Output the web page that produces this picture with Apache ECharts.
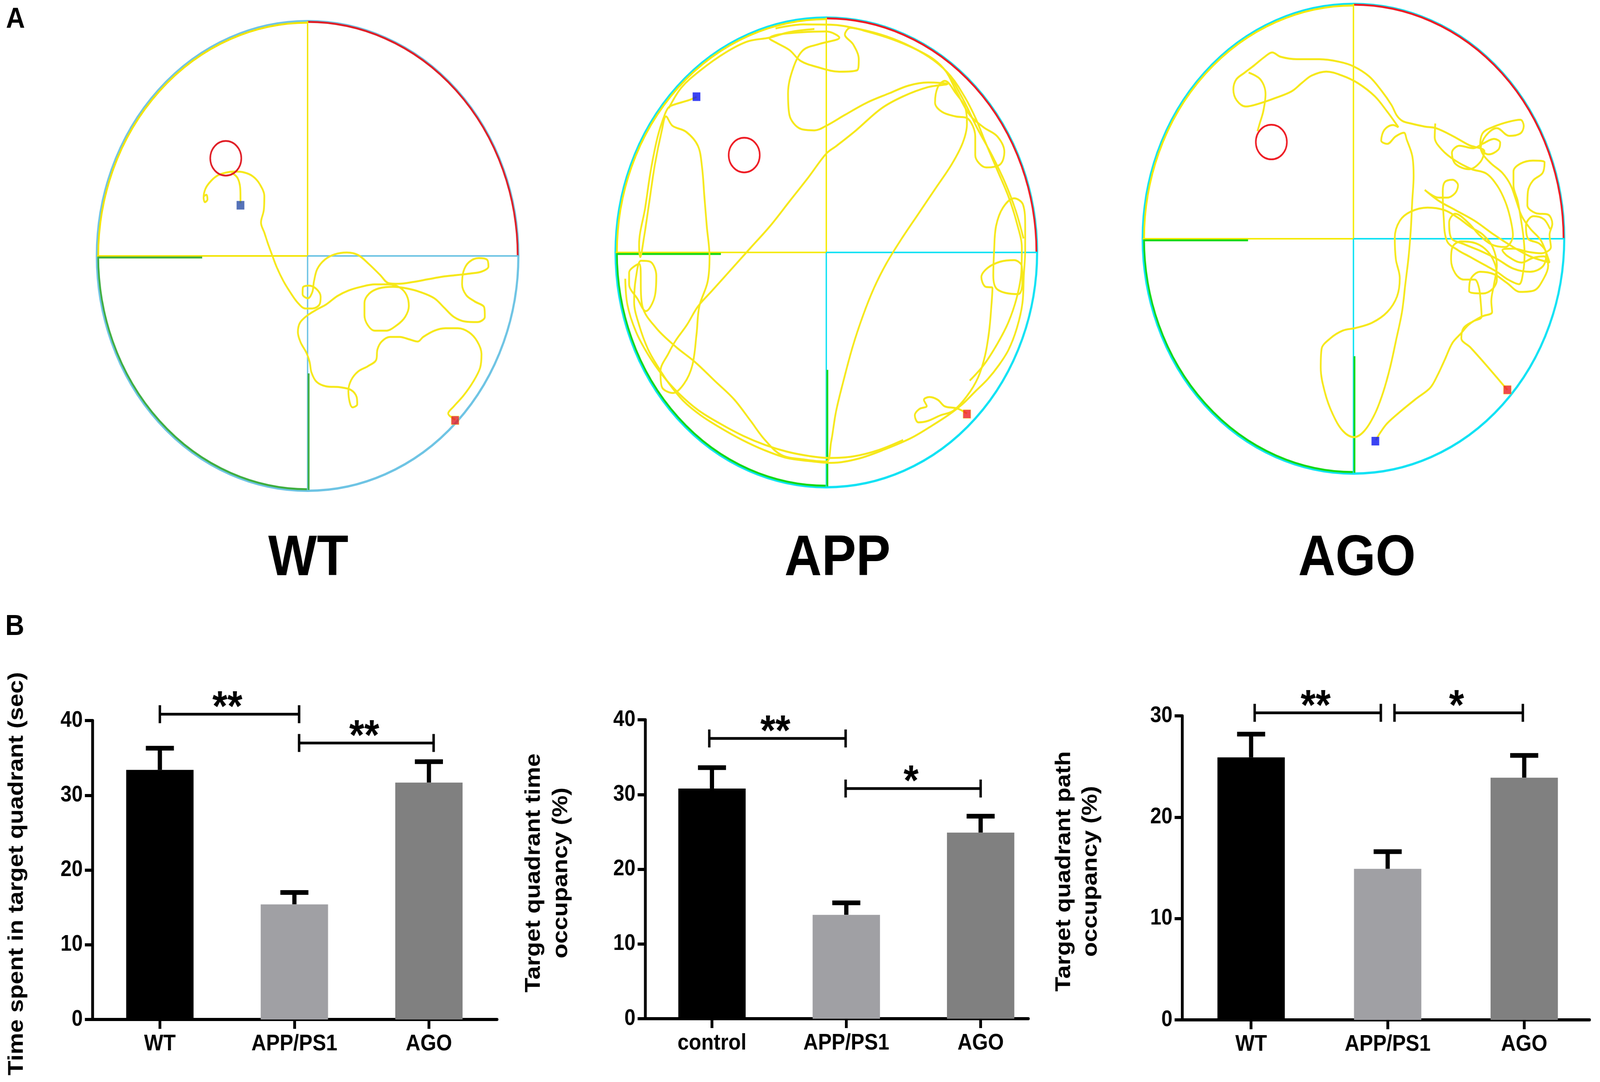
<!DOCTYPE html>
<html>
<head>
<meta charset="utf-8">
<title>Morris water maze probe trial</title>
<script src="https://cdn.jsdelivr.net/npm/echarts@6.0.0/dist/echarts.min.js"></script>
<style>
    html, body { margin: 0; padding: 0; background: #ffffff; overflow: hidden; }
    #wrap { position: relative; overflow: hidden; }
    #chart { position: absolute; left: 0; top: 0; width: 4562px; height: 2769px; transform-origin: 0 0; }
</style>
</head>
<body>
<div id="wrap"><div id="chart"></div></div>
<script>
// ---------- 数据：轨迹（跟踪软件像素坐标） ----------
const arenaNames = ['WT', 'APP', 'AGO'];

// 水池中心与半径 [cx, cy, r]
const poolWT = [783, 788, 760];
const poolAPP = [783, 785, 760];
const poolAGO = [783, 773, 760];

// 平台 [x, y, r]
const platformWT = [488, 472, 56];
const platformAPP = [487, 470, 56];
const platformAGO = [487, 460, 56];

// 入水点（蓝）与终点（红）
const blueWT = [541, 624];
const redWT = [1315, 1320];
const blueAPP = [315, 281];
const redAPP = [1290, 1308];
const blueAGO = [862, 1428];
const redAGO = [1338, 1262];

const trackWT = [
    [1315,1318],[1290,1298],[1310,1275],[1345,1240],[1380,1195],[1405,1150],[1410,1105],[1395,1065],
    [1365,1035],[1325,1022],[1280,1022],[1240,1030],[1200,1050],[1180,1065],[1150,1058],[1115,1050],
    [1080,1050],[1050,1065],[1035,1090],[1030,1125],[1000,1145],[965,1162],[940,1190],[930,1225],
    [935,1262],[945,1278],[962,1268],[960,1245],[940,1222],[900,1213],[850,1210],[815,1195],
    [797,1165],[790,1130],[778,1100],[758,1068],[748,1035],[755,1005],[780,982],[815,962],
    [850,945],[890,918],[930,900],[975,888],[1025,880],[1075,880],[1115,890],[1140,915],
    [1148,950],[1135,985],[1105,1012],[1065,1030],[1025,1030],[1000,1012],[988,980],[988,940],
    [1005,910],[1040,893],[1090,888],[1140,893],[1190,905],[1240,925],[1275,955],[1310,985],
    [1350,1000],[1395,1002],[1422,985],[1420,955],[1385,935],[1355,915],[1340,880],[1345,838],
    [1365,808],[1400,795],[1430,800],[1435,822],[1412,838],[1370,845],[1320,850],[1270,855],
    [1220,863],[1165,872],[1110,878],[1075,876],[1045,850],[1005,815],[965,785],[925,777],
    [880,783],[845,800],[818,830],[806,870],[800,905],[784,925],[765,912],[766,890],
    [788,884],[815,895],[830,920],[826,945],[800,958],[775,958],[748,940],[720,905],
    [695,868],[672,825],[655,785],[640,748],[628,715],[615,680],[625,640],[627,595],
    [610,555],[585,530],[555,518],[520,515],[490,518],[460,527],[435,545],[415,570],
    [408,600],[413,614],[422,605],[418,590],[407,596]
];
const trackWTTail = [[508,518],[530,535],[540,568],[541,600],[541,618]];

const trackAPP = [
    [1290,1306],[1255,1290],[1210,1283],[1185,1262],[1155,1253],[1135,1262],[1145,1282],[1118,1292],
    [1102,1312],[1115,1335],[1150,1330],[1195,1312],[1240,1298],[1290,1250],[1330,1190],[1355,1120],
    [1370,1040],[1378,960],[1382,900],[1355,895],[1342,865],[1365,835],[1410,815],[1460,810],
    [1488,830],[1490,880],[1475,920],[1400,905],[1385,860],[1388,780],[1395,700],[1420,640],
    [1460,610],[1492,630],[1500,700],[1500,780],[1495,860],[1490,950],[1470,1030],[1440,1100],
    [1405,1150],[1365,1195],[1320,1235],[1275,1275],[1225,1310],[1165,1345],[1090,1385],[1000,1420],
    [900,1452],[800,1466],[720,1460],[640,1450],[560,1425],[480,1392],[400,1352],[330,1312],
    [268,1266],[218,1212],[178,1158],[140,1098],[108,1020],[90,945],[96,870],[115,812],
    [148,815],[170,860],[165,925],[132,975],[102,935],[72,888],[72,850],[108,822],
    [120,960],[170,1030],[240,1090],[310,1140],[380,1200],[450,1260],[510,1330],[560,1390],
    [620,1440],[700,1455],[783,1462],[800,1400],[818,1300],[845,1200],[878,1090],[915,990],
    [955,900],[1000,820],[1055,740],[1115,660],[1175,580],[1235,500],[1275,430],[1290,370],
    [1285,320],[1250,270],[1210,230],[1185,250],[1175,300],[1200,330],[1250,345],[1290,350],
    [1320,410],[1320,470],[1360,510],[1410,500],[1425,460],[1400,410],[1350,380],[1300,340],
    [1250,260],[1215,200],[1170,160],[1100,125],[1020,95],[930,70],[870,58],[850,80],
    [880,112],[900,160],[895,195],[830,200],[750,185],[690,165],[650,130],[600,105],
    [578,92],[610,80],[700,72],[783,70],[830,90],[760,110],[700,130],[665,185],
    [645,270],[650,340],[690,385],[740,390],[783,375],[850,340],[930,300],[1010,270],
    [1080,245],[1150,235],[1220,240],[1150,250],[1060,280],[980,320],[890,390],[820,440],
    [783,465],[720,540],[650,620],[580,700],[510,770],[440,840],[370,910],[320,960],
    [280,1020],[240,1070],[215,1110],[185,1170],[190,1220],[230,1240],[270,1210],[300,1150],
    [315,1050],[325,960],[355,880],[362,800],[352,700],[343,600],[335,510],[320,440],
    [278,395],[228,375],[205,345],[190,390],[165,500],[145,620],[125,740],[112,800],
    [108,760],[130,640],[150,520],[175,410],[200,340],[215,315],[240,305],[285,293],
    [315,282]
];
const trackAPPWall = [[215,318],[260,252],[330,195],[420,138],[500,102],[578,90],[650,72],[740,62]];
const trackAPPOuter = [
    [600,60],[700,47],[800,48],[900,62],[1000,86],[1090,120],[1170,163],[1232,215],
    [1282,282],[1322,352],[1355,425],[1400,520],[1440,605],[1470,690],[1488,770],[1486,850],
    [1470,930],[1440,1010],[1400,1080],[1350,1150],[1300,1200]
];
const trackAPPLower = [
    [58,870],[66,955],[96,1040],[138,1112],[190,1180],[252,1242],[322,1296],[402,1340],
    [482,1378],[562,1408],[642,1430],[722,1444],[790,1450],[880,1445],[970,1425],[1060,1392]
];
const trackAPPDiag = [[1228,212],[1280,296],[1330,388],[1380,470],[1428,560],[1466,650],[1494,740]];

const trackAGO = [
    [1338,1262],[1300,1222],[1255,1175],[1205,1125],[1172,1095],[1180,1062],[1215,1040],[1245,1025],
    [1242,980],[1235,930],[1220,905],[1180,905],[1150,885],[1135,840],[1140,800],[1170,782],
    [1225,788],[1268,815],[1295,860],[1300,905],[1285,935],[1250,950],[1200,942],[1205,905],
    [1240,880],[1290,888],[1335,915],[1385,945],[1435,940],[1470,900],[1485,860],[1470,830],
    [1430,835],[1390,850],[1340,830],[1320,810],[1360,805],[1410,815],[1460,820],[1495,800],
    [1490,760],[1500,725],[1485,695],[1440,690],[1410,665],[1412,620],[1430,585],[1465,560],
    [1472,525],[1430,520],[1385,530],[1360,555],[1360,600],[1375,650],[1385,700],[1395,760],
    [1400,820],[1395,880],[1380,920],[1340,905],[1300,880],[1250,855],[1200,830],[1160,810],
    [1120,780],[1108,700],[1105,620],[1112,590],[1140,582],[1160,600],[1150,625],[1120,640],
    [1090,640],[1040,615],[1090,650],[1150,680],[1220,715],[1290,760],[1350,795],[1420,830],
    [1490,850],[1460,780],[1420,740],[1390,700],[1370,650],[1350,600],[1320,560],[1280,530],
    [1250,500],[1240,470],[1250,430],[1290,410],[1340,395],[1385,388],[1397,408],[1385,432],
    [1345,440],[1300,415],[1260,440],[1242,480],[1270,500],[1305,485],[1312,462],[1290,450],
    [1250,465],[1215,480],[1165,472],[1138,495],[1150,530],[1200,548],[1240,525],[1255,490],
    [1200,470],[1140,440],[1080,415],[1040,410],[990,400],[960,392],[940,375],[920,340],
    [885,295],[840,248],[783,215],[730,200],[660,192],[580,192],[520,184],[490,170],
    [462,185],[425,212],[390,236],[360,258],[350,290],[362,325],[395,345],[445,335],
    [500,318],[560,296],[598,268],[632,245],[685,232],[742,245],[800,270],[860,312],
    [905,362],[945,412],[925,405],[895,420],[883,455],[905,466],[935,442],[965,430],
    [975,452],[995,505],[1000,570],[995,650],[990,740],[982,830],[970,920],[958,1010],
    [937,1100],[915,1190],[890,1270],[860,1340],[822,1395],[785,1415],[745,1395],[708,1340],
    [680,1270],[665,1190],[668,1130],[700,1095],[745,1070],[790,1062],[850,1045],[905,1010],
    [940,960],[950,900],[936,840],[932,770],[950,715],[990,685],[1050,672],[1110,680],
    [1160,705],[1205,735],[1250,760],[1285,800],[1300,860],[1290,920],[1280,975],[1283,1010],
    [1245,1025],[1200,1050],[1170,1080],[1140,1110],[1112,1165],[1086,1215],[1060,1255],[1010,1290],
    [955,1330],[905,1370],[880,1400],[864,1425]
];
const trackAGOLoop = [[405,235],[448,258],[466,305],[458,360],[445,400],[437,425]];
const trackAGOCluster = [
    [1078,400],[1076,445],[1102,485],[1150,520],[1210,548],[1262,562],[1302,602],[1330,652],
    [1348,705],[1358,762],[1330,800],[1282,792],[1238,762],[1198,722],[1150,692],[1128,720],
    [1135,770],[1180,790],[1240,812],[1300,838],[1360,870],[1420,880],[1466,862],[1478,822],
    [1455,790],[1412,772],[1405,730],[1432,700],[1470,710],[1492,742]
];

// ---------- 数据：柱状图 ----------
const groupsTime = ['WT', 'APP/PS1', 'AGO'];
const groupsOcc = ['control', 'APP/PS1', 'AGO'];
const groupsPath = ['WT', 'APP/PS1', 'AGO'];

const timeMean = [33.4, 15.4, 31.7];
const timeSem = [2.9, 1.6, 2.8];
const occMean = [30.8, 13.9, 24.9];
const occSem = [2.8, 1.6, 2.2];
const pathMean = [25.9, 14.9, 23.9];
const pathSem = [2.3, 1.7, 2.2];

// 显著性标注 [x1, x2, y, 标记]
const sigTime = [[0, 1.035, 40.85, '**'], [1.035, 2.035, 37.0, '**']];
const sigOcc = [[-0.02, 0.995, 37.5, '**'], [0.995, 2.0, 30.8, '*']];
const sigPath = [[0.026, 0.95, 30.3, '**'], [1.05, 1.99, 30.3, '*']];

const yTitles = [
    'Time spent in target quadrant (sec)',
    'Target quadrant time\noccupancy (%)',
    'Target quadrant path\noccupancy (%)'
];

// ---------- 样式 ----------
const FONT = '"Liberation Sans", Arial, Helvetica, sans-serif';
const barColors = ['#000000', '#a0a0a4', '#808080'];
const trackColor = '#f6e81a';
const palettes = [
    { yellow: '#f2e400', cyan: '#6ec4e4', green: '#3fae3f', red: '#e01e26', blue: '#2b4fa6' },
    { yellow: '#f5ea00', cyan: '#10e2f4', green: '#14d814', red: '#ee1c24', blue: '#0a14f0' },
    { yellow: '#f5ea00', cyan: '#10e2f4', green: '#14d814', red: '#ee1c24', blue: '#0a14f0' }
];

// 画布按 4562×2769 排版，再拉伸到实际窗口
const W = 4562, H = 2769;
const wrap = document.getElementById('wrap');
const el = document.getElementById('chart');
const sx = window.innerWidth / W, sy = window.innerHeight / H;
wrap.style.width = window.innerWidth + 'px';
wrap.style.height = window.innerHeight + 'px';
el.style.transform = 'scale(' + sx + ',' + sy + ')';

const chart = echarts.init(el, null, { renderer: 'canvas' });

// 水池轮廓与象限线
function renderPool(pal) {
    return function (params, api) {
        const c = api.coord([api.value(0), api.value(1)]);
        const r = api.size([api.value(2), 0])[0];
        const x = c[0], y = c[1];
        const arc = (a0, a1, color, rr) => ({
            type: 'arc',
            shape: { cx: x, cy: y, r: rr, startAngle: a0, endAngle: a1, clockwise: true },
            style: { stroke: color, lineWidth: 5, fill: 'none' }
        });
        const seg = (x1, y1, x2, y2, color, w) => ({
            type: 'line',
            shape: { x1: x1, y1: y1, x2: x2, y2: y2 },
            style: { stroke: color, lineWidth: w }
        });
        return {
            type: 'group',
            children: [
                { type: 'circle', shape: { cx: x, cy: y, r: r }, style: { fill: 'none', stroke: pal.cyan, lineWidth: 6 } },
                arc(Math.PI, 1.5 * Math.PI, pal.yellow, r - 4),
                arc(1.5 * Math.PI, 2 * Math.PI, pal.red, r - 2),
                arc(0.5 * Math.PI, Math.PI, pal.green, r - 4),
                seg(x, y - r, x, y, pal.yellow, 4),
                seg(x - r, y, x, y, pal.yellow, 4),
                seg(x, y, x + r, y, pal.cyan, 4),
                seg(x, y, x, y + r, pal.cyan, 4),
                seg(x - r + 2, y + 4, x - r / 2, y + 4, pal.green, 5),
                seg(x + 3, y + r / 2, x + 3, y + r - 2, pal.green, 5)
            ]
        };
    };
}

function renderPlatform(pal) {
    return function (params, api) {
        const c = api.coord([api.value(0), api.value(1)]);
        const r = api.size([api.value(2), 0])[0];
        return {
            type: 'circle',
            shape: { cx: c[0], cy: c[1], r: r },
            style: { fill: 'none', stroke: pal.red, lineWidth: 4.5 }
        };
    };
}

// 误差线（均值 + SEM）
function renderErr(params, api) {
    const x = api.value(0);
    const p0 = api.coord([x, api.value(1)]);
    const p1 = api.coord([x, api.value(2)]);
    return {
        type: 'group',
        children: [
            { type: 'line', shape: { x1: p0[0], y1: p0[1], x2: p1[0], y2: p1[1] }, style: { stroke: '#000', lineWidth: 12 } },
            { type: 'line', shape: { x1: p1[0] - 40, y1: p1[1], x2: p1[0] + 40, y2: p1[1] }, style: { stroke: '#000', lineWidth: 12 } }
        ]
    };
}

function renderSig(list) {
    return function (params, api) {
        const a = api.coord([api.value(0), api.value(2)]);
        const b = api.coord([api.value(1), api.value(2)]);
        const y = a[1];
        const mark = list[params.dataIndex][3];
        return {
            type: 'group',
            children: [
                { type: 'line', shape: { x1: a[0], y1: y, x2: b[0], y2: y }, style: { stroke: '#000', lineWidth: 7 } },
                { type: 'line', shape: { x1: a[0], y1: y - 23, x2: a[0], y2: y + 23 }, style: { stroke: '#000', lineWidth: 7 } },
                { type: 'line', shape: { x1: b[0], y1: y - 23, x2: b[0], y2: y + 23 }, style: { stroke: '#000', lineWidth: 7 } },
                {
                    type: 'text',
                    x: (a[0] + b[0]) / 2 - 6,
                    y: y - 14,
                    style: {
                        text: mark,
                        font: 'bold 110px ' + FONT,
                        fill: '#000',
                        textAlign: 'center', textVerticalAlign: 'middle',
                        align: 'center', verticalAlign: 'middle'
                    }
                }
            ]
        };
    };
}

// ---------- 布局 ----------
const pools = [poolWT, poolAPP, poolAGO];
const platforms = [platformWT, platformAPP, platformAGO];
const blues = [blueWT, blueAPP, blueAGO];
const reds = [redWT, redAPP, redAGO];
const tracks = [
    [trackWT, trackWTTail],
    [trackAPP, trackAPPWall, trackAPPOuter, trackAPPLower, trackAPPDiag],
    [trackAGO, trackAGOLoop, trackAGOCluster]
];
const poolGrids = [{ left: 276, top: 54 }, { left: 1755, top: 45 }, { left: 3258, top: 10 }];
const POOL_PX = 1202;

const barSets = [
    { cats: groupsTime, mean: timeMean, sem: timeSem, sig: sigTime, yMax: 40,
      grid: { left: 264, top: 1844, width: 1153, height: 765 }, xr: [-0.5, 2.506] },
    { cats: groupsOcc, mean: occMean, sem: occSem, sig: sigOcc, yMax: 40,
      grid: { left: 1840, top: 1842, width: 1092, height: 765 }, xr: [-0.496, 2.355] },
    { cats: groupsPath, mean: pathMean, sem: pathSem, sig: sigPath, yMax: 30,
      grid: { left: 3371, top: 1832, width: 1161, height: 778 }, xr: [-0.504, 2.478] }
];

const grids = [], xAxes = [], yAxes = [], series = [];

pools.forEach(function (pool, i) {
    const pal = palettes[i];
    grids.push({ left: poolGrids[i].left, top: poolGrids[i].top, width: POOL_PX, height: POOL_PX, outerBoundsMode: 'none' });
    xAxes.push({ gridIndex: i, type: 'value', min: pool[0] - pool[2], max: pool[0] + pool[2], show: false });
    yAxes.push({ gridIndex: i, type: 'value', min: pool[1] - pool[2], max: pool[1] + pool[2], inverse: true, show: false });
    series.push({
        type: 'custom', xAxisIndex: i, yAxisIndex: i, coordinateSystem: 'cartesian2d',
        renderItem: renderPool(pal), data: [pool], silent: true, z: 1
    });
    tracks[i].forEach(function (tr) {
        series.push({
            type: 'line', xAxisIndex: i, yAxisIndex: i, data: tr,
            showSymbol: false, smooth: 0.35, clip: false, silent: true, z: 2,
            lineStyle: { color: trackColor, width: 5 }
        });
    });
    series.push({
        type: 'custom', xAxisIndex: i, yAxisIndex: i, coordinateSystem: 'cartesian2d',
        renderItem: renderPlatform(pal), data: [platforms[i]], silent: true, z: 3
    });
    series.push({
        type: 'scatter', xAxisIndex: i, yAxisIndex: i, symbol: 'rect', symbolSize: 22, z: 4,
        data: [blues[i]], itemStyle: { color: pal.blue }, silent: true
    });
    series.push({
        type: 'scatter', xAxisIndex: i, yAxisIndex: i, symbol: 'rect', symbolSize: 22, z: 4,
        data: [reds[i]], itemStyle: { color: pal.red, borderColor: '#f6e81a', borderWidth: 1 }, silent: true
    });
});

barSets.forEach(function (set, k) {
    const gi = 3 + k;
    grids.push(Object.assign({ outerBoundsMode: 'none' }, set.grid));
    xAxes.push({
        gridIndex: gi, type: 'value', min: set.xr[0], max: set.xr[1],
        splitLine: { show: false },
        axisLine: { onZero: false, lineStyle: { color: '#000', width: 8 } },
        axisTick: { customValues: [0, 1, 2], length: 24, lineStyle: { color: '#000', width: 8 } },
        axisLabel: {
            customValues: [0, 1, 2], margin: 34,
            formatter: function (v) { return set.cats[Math.round(v)]; },
            color: '#000', fontFamily: FONT, fontWeight: 'bold', fontSize: 58
        }
    });
    yAxes.push({
        gridIndex: gi, type: 'value', min: 0, max: set.yMax, interval: 10,
        splitLine: { show: false },
        axisLine: { show: true, onZero: false, lineStyle: { color: '#000', width: 8 } },
        axisTick: { show: true, length: 22, lineStyle: { color: '#000', width: 8 } },
        axisLabel: { margin: 28, color: '#000', fontFamily: FONT, fontWeight: 'bold', fontSize: 57 }
    });
    series.push({
        type: 'bar', xAxisIndex: gi, yAxisIndex: gi, barWidth: 192, z: 2, silent: true,
        data: set.mean.map(function (m, j) {
            return { value: [j, m], itemStyle: { color: barColors[j] } };
        })
    });
    series.push({
        type: 'custom', xAxisIndex: gi, yAxisIndex: gi, coordinateSystem: 'cartesian2d',
        renderItem: renderErr, z: 1, silent: true, clip: false,
        data: set.mean.map(function (m, j) { return [j, m, m + set.sem[j]]; })
    });
    series.push({
        type: 'custom', xAxisIndex: gi, yAxisIndex: gi, coordinateSystem: 'cartesian2d',
        renderItem: renderSig(set.sig), z: 3, silent: true, clip: false,
        data: set.sig.map(function (s) { return [s[0], s[1], s[2]]; })
    });
});

function label(text, x, y, size, extra) {
    return Object.assign({
        type: 'text', x: x, y: y, silent: true,
        style: {
            text: text, font: 'bold ' + size + 'px ' + FONT, fill: '#000',
            textAlign: 'center', textVerticalAlign: 'middle', align: 'center', verticalAlign: 'middle'
        }
    }, extra || {});
}

const graphics = [
    label('A', 44, 50, 75),
    label('B', 42, 1604, 75),
    label(arenaNames[0], 879, 1431, 147),
    label(arenaNames[1], 2388, 1431, 147),
    label(arenaNames[2], 3869, 1431, 147),
    label(yTitles[0], 48, 2236, 62, { rotation: Math.PI / 2 }),
    label(yTitles[1], 1561, 2234, 62, { rotation: Math.PI / 2 }),
    label(yTitles[2], 3072, 2230, 62, { rotation: Math.PI / 2 })
];
graphics[6].style.lineHeight = 78;
graphics[7].style.lineHeight = 76;

chart.setOption({
    animation: false,
    backgroundColor: '#ffffff',
    grid: grids,
    xAxis: xAxes,
    yAxis: yAxes,
    series: series,
    graphic: graphics
});
</script>
</body>
</html>
